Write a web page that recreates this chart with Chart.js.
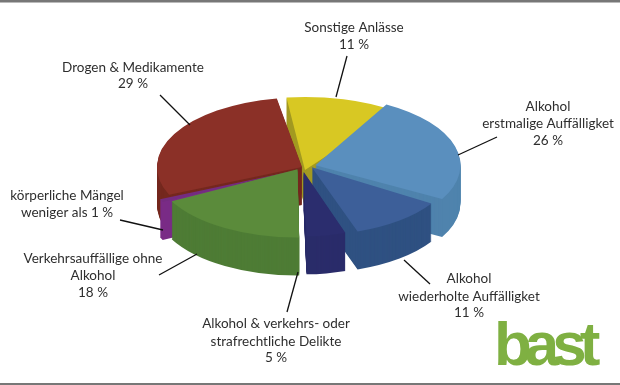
<!DOCTYPE html>
<html><head><meta charset="utf-8">
<script src="https://cdn.jsdelivr.net/npm/chart.js@4/dist/chart.umd.js"></script>
<style>html,body{margin:0;padding:0;background:#fff}canvas{display:block}</style>
</head><body><canvas id="c" width="620" height="385"></canvas>
<script>
const categories = ['Sonstige Anlässe','Alkohol erstmalige Auffälligket','Alkohol wiederholte Auffälligket','Alkohol & verkehrs- oder strafrechtliche Delikte','Verkehrsauffällige ohne Alkohol','körperliche Mängel','Drogen & Medikamente'];
const values = [11,26,11,5,18,0.8,29];
const topColors = ['#d8c823','#5a8fbe','#3d5f99','#2b2d6e','#5b8b3b','#742c80','#8b3027'];
const sideColors = ['#a39a22','#4f83ad','#2f5182','#2a2c6a','#4e7c35','#7a2c86','#74281e'];
const explode = [0,56,44,40,12,12,0];
const drawOrder = [0,6,1,5,4,2,3];
const perspScale = [1.05,1,0.95,0.88,0.98,1,1];
const trimStart = [3,0,0,0,0,0,0];
const growEnd = [7,-3,0,0,-1.5,0,0];
const nudge = [[3,3],[0,0],[3,-4],[0,0],[-3,1],[-4,3],[0,0]];
const labelLines = [
 ['Sonstige Anlässe',354,32],['11 %',354,49],
 ['Drogen & Medikamente',133,72],['29 %',133,88],
 ['Alkohol',548,111],['erstmalige Auffälligket',548,128],['26 %',548,145],
 ['Alkohol',469,283],['wiederholte Auffälligket',469,301],['11 %',469,317],
 ['Alkohol & verkehrs- oder',276,328],['strafrechtliche Delikte',276,346],['5 %',276,362],
 ['Verkehrsauffällige ohne',93,263],['Alkohol',93,280],['18 %',93,297],
 ['körperliche Mängel',67,200],['weniger als 1 %',67,217]
];
const leaders = [[347,56,336,97],[160,95,190,125],[497,137,458,155],[430,284,404,260],[287,312,298,272],[159,275,197,254],[120,220,163,230]];
const CX=302, CY=167, K=0.48, DEPTH=38;
const RAD=Math.PI/180;

const pie3d = {
  id:'pie3d',
  beforeDatasetDraw(chart){
    const ctx=chart.ctx, a=chart.chartArea, mx=(a.left+a.right)/2, my=(a.top+a.bottom)/2;
    const arcs=chart.getDatasetMeta(0).data;
    const paint=(i,color,dy)=>{
      const el=arcs[i];
      const saved=[el.options,el.outerRadius,el.startAngle,el.endAngle,el.circumference];
      el.options=Object.assign({},saved[0],{backgroundColor:color,borderWidth:0});
      el.outerRadius=saved[1]*perspScale[i];
      el.startAngle=saved[2]+trimStart[i]*RAD;
      el.endAngle=saved[3]+growEnd[i]*RAD;
      el.circumference=el.endAngle-el.startAngle;
      ctx.save();
      ctx.translate(CX+nudge[i][0],CY+nudge[i][1]+dy);ctx.scale(1,K);ctx.translate(-mx,-my);
      el.draw(ctx);
      ctx.restore();
      [el.options,el.outerRadius,el.startAngle,el.endAngle,el.circumference]=saved;
    };
    for(const i of drawOrder){
      for(let d=DEPTH;d>0;d--) paint(i,sideColors[i],d);
      paint(i,topColors[i],0);
    }
    return false;
  },
  afterDraw(chart){
    const ctx=chart.ctx;
    ctx.save();
    ctx.fillStyle='#777';
    ctx.fillRect(0,0,620,2.5);ctx.fillRect(0,383,620,2);
    ctx.strokeStyle='#111';ctx.lineWidth=1.3;
    for(const [x1,y1,x2,y2] of leaders){ctx.beginPath();ctx.moveTo(x1,y1);ctx.lineTo(x2,y2);ctx.stroke();}
    ctx.fillStyle='#2e2e2e';ctx.font='13.5px Lato';ctx.textAlign='center';ctx.textBaseline='alphabetic';
    for(const [t,x,y] of labelLines) ctx.fillText(t,x,y);
    ctx.fillStyle='#7fb042';ctx.font='bold 62px "Liberation Sans"';ctx.textAlign='left';ctx.letterSpacing='-7px';
    ctx.fillText('bast',494,365);
    ctx.restore();
  }
};
new Chart(document.getElementById('c'),{
  type:'pie',
  data:{labels:categories,datasets:[{data:values,backgroundColor:topColors,borderWidth:0,offset:explode,radius:145}]},
  options:{responsive:false,animation:false,rotation:-10,layout:{padding:0},
    plugins:{legend:{display:false},tooltip:{enabled:false}}},
  plugins:[pie3d]
});
</script></body></html>
